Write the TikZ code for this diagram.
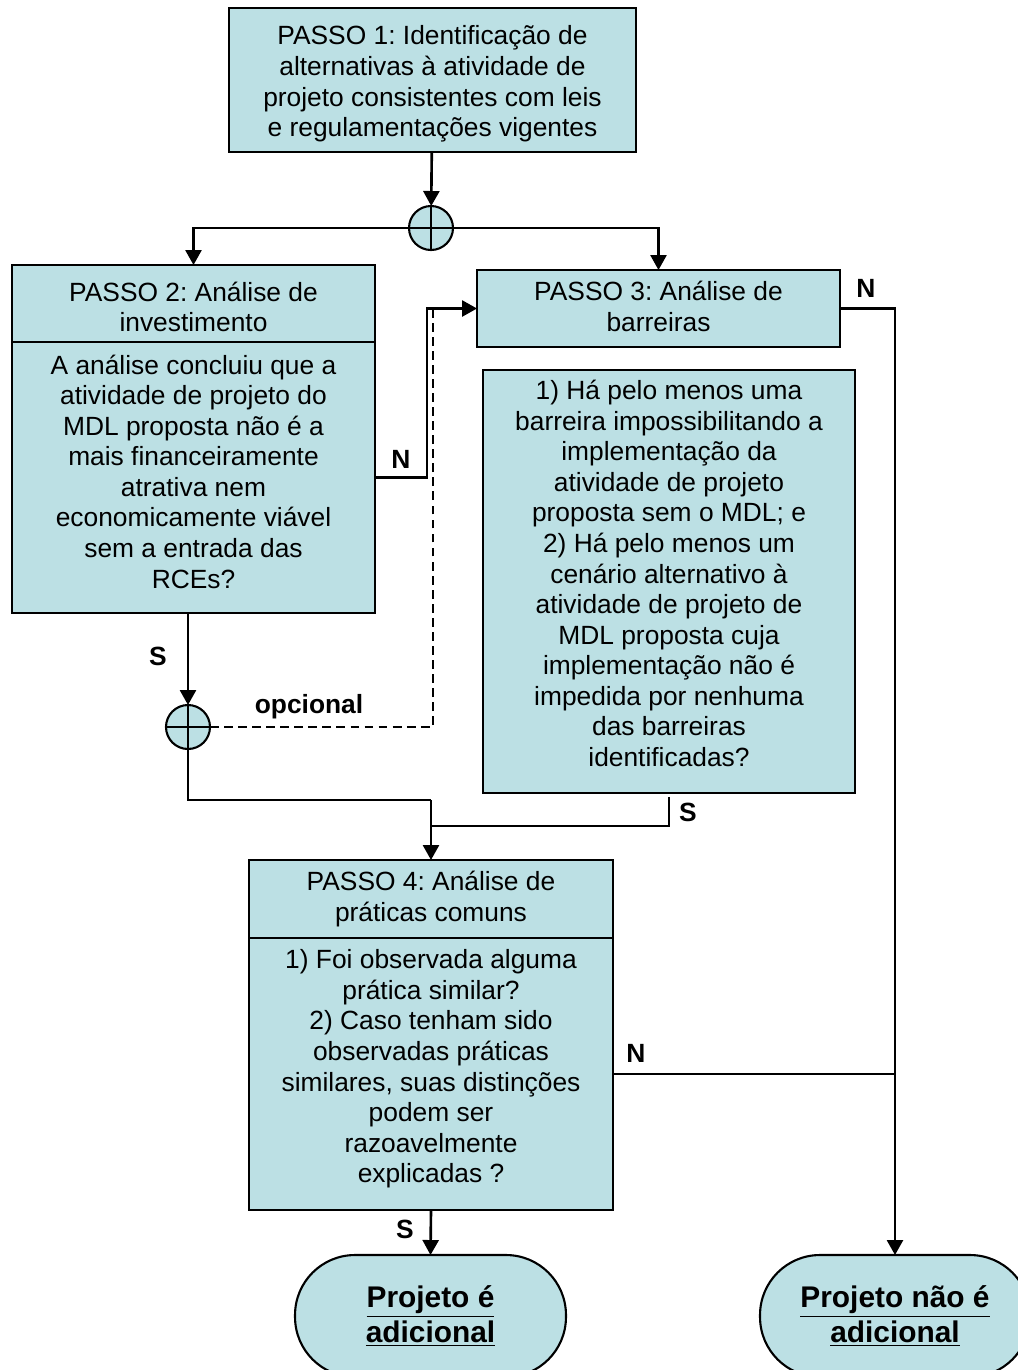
\documentclass[tikz,border=0pt]{standalone}
\usepackage{fontspec}
\setmainfont{Liberation Sans}
\usetikzlibrary{arrows.meta}

\definecolor{passofill}{RGB}{188,224,228}

\tikzset{
  passo/.style={draw,fill=passofill,inner sep=0pt,outer sep=0pt,line width=1.2pt},
  texto/.style={align=center,inner sep=0pt,
    font=\fontsize{15pt}{17.4pt}\selectfont\frenchspacing},
  juncao/.style={draw,fill=passofill,circle,minimum size=0.88cm,inner sep=0pt,
    outer sep=0pt,line width=1.2pt,
    path picture={
      \draw (path picture bounding box.north) -- (path picture bounding box.south);
      \draw (path picture bounding box.west) -- (path picture bounding box.east);
    }},
  fim/.style={draw,fill=passofill,rounded corners=1.2cm,align=center,
    minimum height=2.44cm,inner sep=0pt,outer sep=0pt,line width=1.2pt,
    font=\fontsize{17pt}{20pt}\selectfont\bfseries},
  rotulo/.style={font=\fontsize{15pt}{17pt}\selectfont\bfseries,inner sep=0pt},
}

\begin{document}
\begin{tikzpicture}[x=0.02cm,y=-0.02cm,line width=1.5pt,
    >={Triangle[width=0.32cm,length=0.3cm]}]
  \useasboundingbox (0,0) rectangle (1018,1370);
  \clip (0,0) rectangle (1018,1370);

  % passos
  \node[passo,minimum width=8.14cm,minimum height=2.88cm,
    label={[texto,yshift=-0.08cm]center:{PASSO 1: Identificação de\\alternativas à atividade de\\projeto consistentes com leis\\e regulamentações vigentes}}]
    (passo1) at (432.5,80) {};
  \node[juncao] (junc1) at (431,228) {};

  \node[passo,minimum width=7.26cm,minimum height=1.54cm,
    label={[texto,yshift=-0.07cm]center:{PASSO 2: Análise de\\investimento}}]
    (passo2) at (193.5,303.5) {};
  \node[passo,minimum width=7.26cm,minimum height=5.42cm,anchor=north,
    label={[texto,yshift=0.12cm]center:{A análise concluiu que a\\atividade de projeto do\\MDL proposta não é a\\mais financeiramente\\atrativa nem\\economicamente viável\\sem a entrada das\\RCEs?}}]
    (invest) at (passo2.south) {};

  \node[passo,minimum width=7.26cm,minimum height=1.54cm,
    label={[texto,yshift=0.04cm]center:{PASSO 3: Análise de\\barreiras}}]
    (passo3) at (658.5,308.5) {};
  \node[passo,minimum width=7.44cm,minimum height=8.46cm,
    label={[texto,yshift=0.16cm]center:{1) Há pelo menos uma\\barreira impossibilitando a\\implementação da\\atividade de projeto\\proposta sem o MDL; e\\2) Há pelo menos um\\cenário alternativo à\\atividade de projeto de\\MDL proposta cuja\\implementação não é\\impedida por nenhuma\\das barreiras\\identificadas?}}]
    (barreiras) at (669,581.5) {};

  \node[juncao] (junc2) at (188,727) {};

  \node[passo,minimum width=7.28cm,minimum height=1.56cm,
    label={[texto]center:{PASSO 4: Análise de\\práticas comuns}}]
    (passo4) at (431,899) {};
  \node[passo,minimum width=7.28cm,minimum height=5.44cm,anchor=north,
    label={[texto,yshift=0.1cm]center:{1) Foi observada alguma\\prática similar?\\2) Caso tenham sido\\observadas práticas\\similares, suas distinções\\podem ser\\razoavelmente\\explicadas ?}}]
    (praticas) at (passo4.south) {};

  % resultados
  \node[fim,minimum width=5.42cm] (adic) at (430.5,1316)
    {\underline{Projeto é}\\\underline{adicional}};
  \node[fim,minimum width=5.4cm] (naoadic) at (895,1316)
    {\underline{Projeto não é}\\\underline{adicional}};

  % pontos de dobra
  \coordinate (dobraN) at (427,477.5);
  \coordinate (dobraOpc) at (433,310);
  \coordinate (juntaS1) at (431,800);
  \coordinate (juntaS2) at (431,826);

  % ligacoes
  \draw[->]
    (passo1)
    --
    (junc1);
  \draw[->]
    (junc1.west)
    -|
    (passo2.north);
  \draw[->]
    (junc1.east)
    -|
    (passo3.north);
  \draw[->]
    (invest.south -| junc2)
    --
    (junc2.north);
  \draw[->]
    (invest.east |- dobraN)
    --
    (dobraN)
    |-
    (passo3.west);
  \draw[dash pattern=on 5pt off 3pt]
    (junc2.east)
    -|
    (dobraOpc);
  \draw
    (junc2.south)
    |-
    (juntaS1);
  \draw[->]
    (juntaS1)
    --
    (passo4.north);
  \draw
    ([yshift=-0.08cm]barreiras.south)
    |-
    (juntaS2);
  \draw[->]
    (passo3.east)
    -|
    (naoadic.north);
  \draw
    (praticas.east)
    --
    (praticas.east -| naoadic.north);
  \draw[->]
    (praticas.south)
    --
    (adic.north);

  % rotulos
  \node[rotulo] (rotN2) at (401,459) {N};
  \node[rotulo] (rotS2) at (158,656) {S};
  \node[rotulo] (rotOpc) at (309,707) {opcional};
  \node[rotulo] (rotS3) at (688,812) {S};
  \node[rotulo] (rotN3) at (866,288) {N};
  \node[rotulo] (rotN4) at (636,1053) {N};
  \node[rotulo] (rotS4) at (405,1229) {S};
\end{tikzpicture}
\end{document}
